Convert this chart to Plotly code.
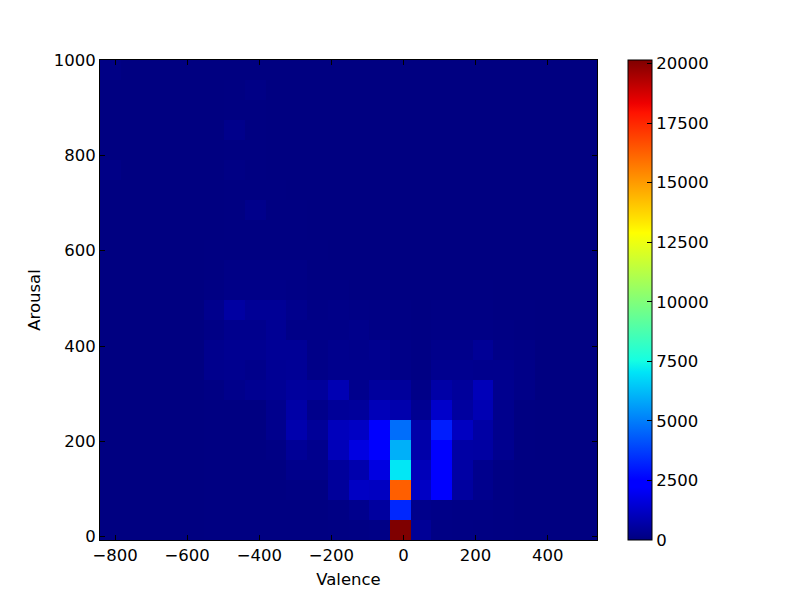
import plotly.graph_objects as go

valence_edges = [-841.9 + 57.45 * i for i in range(25)]
arousal_edges = [-7 + 41.96 * i for i in range(25)]

# counts per bin, row 0 = lowest arousal; columns = valence bins
counts = [
 [40,40,40,40,40,50,50,50,50,60,60,70,80,120,20150,400,100,80,70,60,40,30,30,30],
 [40,40,40,40,40,50,50,50,50,60,60,100,240,560,3300,200,160,120,120,80,40,30,30,30],
 [40,40,40,40,40,50,50,50,50,80,80,480,1200,1150,16300,1200,2300,560,240,80,40,30,30,30],
 [40,40,40,40,40,50,50,50,50,200,200,480,800,1700,7100,1000,2300,640,240,80,40,30,30,30],
 [40,40,40,40,40,50,50,50,100,400,240,1000,1700,2300,6000,720,2400,640,600,280,60,30,30,30],
 [40,40,40,40,40,50,50,50,240,800,440,1050,1200,2300,4700,720,3100,1150,640,240,60,30,30,30],
 [40,40,40,40,40,50,50,50,240,680,200,440,480,1000,800,320,1300,560,900,240,60,30,30,30],
 [40,40,40,40,40,80,200,320,360,520,480,900,240,520,480,160,680,480,1000,280,160,40,30,30],
 [40,40,40,40,40,240,280,200,360,400,160,240,240,240,160,80,280,280,240,240,160,40,30,30],
 [40,40,40,40,40,240,320,320,400,400,160,240,200,280,160,100,200,200,400,160,120,40,30,30],
 [40,40,40,40,40,120,240,240,360,160,160,160,200,120,100,80,120,120,120,80,60,40,30,30],
 [40,40,40,40,40,240,600,400,400,240,120,160,120,100,80,60,80,80,80,60,50,40,30,30],
 [40,40,40,40,40,80,160,160,160,120,80,80,60,60,50,50,50,50,50,40,40,30,30,30],
 [40,40,40,40,40,50,120,120,120,120,60,50,50,50,40,40,40,40,40,40,30,30,30,30],
 [40,40,40,40,40,50,50,50,50,50,50,40,40,40,40,40,40,40,40,30,30,30,30,30],
 [40,40,40,40,40,40,50,50,50,50,40,40,40,40,40,40,40,40,40,30,30,30,30,30],
 [40,40,40,40,40,40,50,200,50,50,40,40,40,40,40,40,40,40,30,30,30,30,30,30],
 [40,40,40,40,40,40,50,50,50,40,40,40,40,40,40,40,40,30,30,30,30,30,30,30],
 [120,40,40,40,40,40,100,50,40,40,40,40,40,40,40,40,30,30,30,30,30,30,30,30],
 [40,40,40,40,40,40,50,50,40,40,40,40,40,40,40,40,30,30,30,30,30,30,30,30],
 [40,40,40,40,40,40,200,50,40,40,40,40,40,40,40,40,30,30,30,30,30,30,30,30],
 [40,40,40,40,40,40,50,50,40,40,40,40,40,40,40,40,30,30,30,30,30,30,30,30],
 [40,40,40,40,40,40,50,120,40,40,40,40,40,40,40,40,30,30,30,30,30,30,30,30],
 [100,40,40,40,40,40,40,40,40,40,40,40,40,40,40,40,30,30,30,30,30,30,30,30],
]
x_ticks = [-800, -600, -400, -200, 0, 200, 400]
x_labels = ["\u2212800", "\u2212600", "\u2212400", "\u2212200", "0", "200", "400"]
y_ticks = [0, 200, 400, 600, 800, 1000]
bar_ticks = [0, 2500, 5000, 7500, 10000, 12500, 15000, 17500, 20000]

jet = [[0, "#00007f"], [0.11, "#0000ff"], [0.125, "#0000ff"], [0.35, "#00e5f7"], [0.375, "#16ffe1"],
       [0.64, "#ffff00"], [0.66, "#ffea00"], [0.89, "#ff1300"], [0.91, "#ee0000"], [1, "#7f0000"]]
font = dict(family="DejaVu Sans", size=16.5, color="black")

fig = go.Figure(go.Heatmap(
    x=valence_edges, y=arousal_edges, z=counts, zmin=0, zmax=20150,
    colorscale=jet, zsmooth=False,
    colorbar=dict(x=1.062, xanchor="left", xpad=0, y=0.5, ypad=0, len=1, lenmode="fraction",
                  thickness=24, thicknessmode="pixels", outlinecolor="black", outlinewidth=1,
                  tickmode="array", tickvals=bar_ticks, ticktext=[str(t) for t in bar_ticks],
                  ticks="inside", ticklen=5, tickcolor="black", tickfont=font),
))
common = dict(showgrid=False, zeroline=False, showline=True, linecolor="black", linewidth=1,
              mirror="allticks", ticks="inside", ticklen=5, tickcolor="black", tickfont=font)
fig.update_xaxes(range=[valence_edges[0], valence_edges[-1]], tickmode="array", tickvals=x_ticks,
                 ticktext=x_labels, title=dict(text="Valence", font=font, standoff=9), **common)
fig.update_yaxes(range=[arousal_edges[0], arousal_edges[-1]], tickmode="array", tickvals=y_ticks,
                 title=dict(text="Arousal", font=font, standoff=8), **common)
fig.update_layout(width=792, height=592, paper_bgcolor="white", plot_bgcolor="white",
                  margin=dict(l=92, r=203, t=52, b=60, autoexpand=False))
fig.write_html("out.html")
